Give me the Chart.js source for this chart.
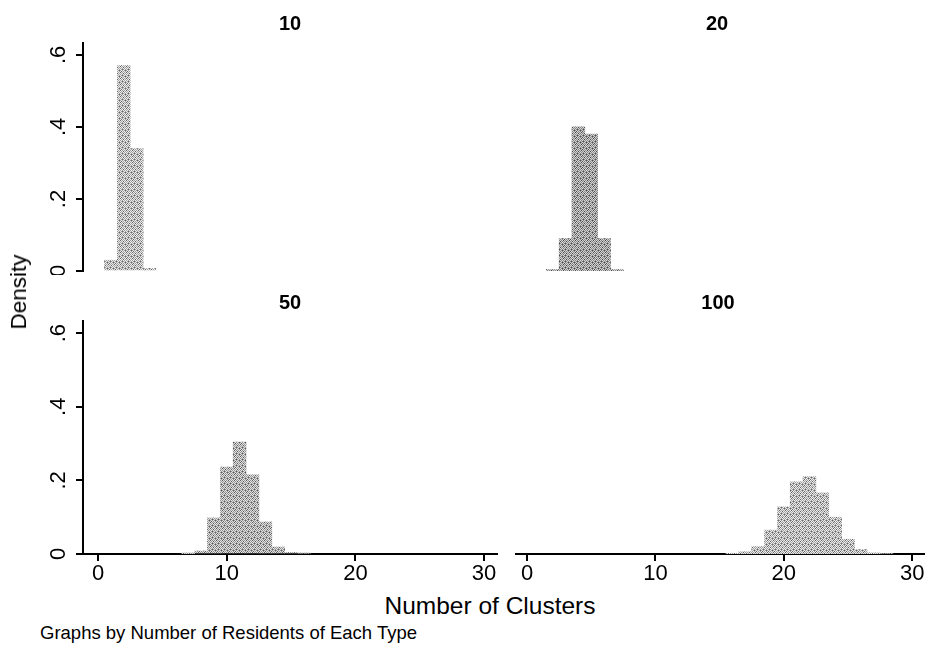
<!DOCTYPE html>
<html>
<head>
<meta charset="utf-8">
<script src="https://cdn.jsdelivr.net/npm/chart.js@4.4.1/dist/chart.umd.min.js"></script>
<style>
  body { margin: 0; background: #fff; width: 928px; height: 645px; position: relative; overflow: hidden;
         font-family: "Liberation Sans", Arial, sans-serif; color: #000; }
  canvas { position: absolute; }
  .ttl { position: absolute; font-weight: bold; font-size: 20px; transform: translate(-50%, -50%); white-space: nowrap; }
  .lbl { position: absolute; white-space: nowrap; font-family: "Liberation Sans Narrow", "Liberation Sans", Arial, sans-serif; }
</style>
</head>
<body>
<canvas id="p10" width="498" height="245" style="left:0;top:30px"></canvas>
<canvas id="p20" width="410" height="245" style="left:515px;top:30px"></canvas>
<canvas id="p50" width="498" height="290" style="left:0;top:300px"></canvas>
<canvas id="p100" width="410" height="290" style="left:515px;top:300px"></canvas>

<div class="ttl" style="left:290px;top:23px">10</div>
<div class="ttl" style="left:717px;top:23px">20</div>
<div class="ttl" style="left:290px;top:302px">50</div>
<div class="ttl" style="left:718px;top:302px">100</div>

<div class="lbl" style="left:19px;top:292px;font-size:22.5px;transform:translate(-50%,-50%) rotate(-90deg)">Density</div>
<div class="lbl" style="left:490px;top:606px;font-size:24.5px;transform:translate(-50%,-50%)">Number of Clusters</div>
<div class="lbl" style="left:40px;top:622px;font-size:18.5px">Graphs by Number of Residents of Each Type</div>

<script>
// number of clusters (bin centres) and density for each panel (residents of each type)
const clusters10 = [1, 2, 3, 4];
const density10 = [0.03, 0.57, 0.34, 0.007];

const clusters20 = [2, 3, 4, 5, 6, 7];
const density20 = [0.004, 0.09, 0.40, 0.38, 0.09, 0.004];

const clusters50 = [7, 8, 9, 10, 11, 12, 13, 14, 15, 16];
const density50 = [0.001, 0.008, 0.098, 0.236, 0.304, 0.215, 0.087, 0.019, 0.004, 0.002];

const clusters100 = [16, 17, 18, 19, 20, 21, 22, 23, 24, 25, 26, 27, 28];
const density100 = [0.002, 0.006, 0.02, 0.065, 0.128, 0.196, 0.21, 0.166, 0.10, 0.04, 0.012, 0.003, 0.001];

const xTicks = [0, 10, 20, 30];
const yTicks = [0, 0.2, 0.4, 0.6];
const yTickLabels = ["0", ".2", ".4", ".6"];

const tickFont = '"Liberation Sans Narrow", "Liberation Sans", Arial, sans-serif';

// grainy grey fill like the scanned bars
function grainPattern(dark) {
  const c = document.createElement("canvas");
  c.width = 6; c.height = 6;
  const g = c.getContext("2d");
  for (let i = 0; i < 6; i++) {
    for (let j = 0; j < 6; j++) {
      let v = (i + j) % 2 === 0 ? 160 : 235;
      if ((i * 3 + j * 5) % 7 === 0) v = 100;
      v = Math.round(v - dark);
      g.fillStyle = "rgb(" + v + "," + v + "," + v + ")";
      g.fillRect(i, j, 1, 1);
    }
  }
  return g.createPattern(c, "repeat");
}

const yLabelPlugin = {
  id: "yLabels",
  afterDraw(chart) {
    const s = chart.scales.y;
    if (!s.options.display) return;
    const ctx = chart.ctx;
    ctx.save();
    ctx.font = "22px " + tickFont;
    ctx.fillStyle = "#000";
    ctx.textAlign = "center";
    ctx.textBaseline = "middle";
    yTicks.forEach(function(v, i) {
      ctx.save();
      ctx.translate(59, s.getPixelForValue(v));
      ctx.rotate(-Math.PI / 2);
      ctx.fillText(yTickLabels[i], 0, 0);
      ctx.restore();
    });
    ctx.restore();
  }
};

function makePanel(id, xs, ys, p) {
  const ctx = document.getElementById(id).getContext("2d");
  return new Chart(ctx, {
    type: "bar",
    data: {
      datasets: [{
        data: xs.map(function(x, i) { return { x: x, y: ys[i] }; }),
        backgroundColor: grainPattern(p.dark),
        borderWidth: 0,
        barPercentage: 1,
        categoryPercentage: 1
      }]
    },
    options: {
      responsive: false,
      animation: false,
      devicePixelRatio: 1,
      layout: { padding: { top: p.padTop, bottom: p.padBottom, left: 0, right: 0 } },
      plugins: { legend: { display: false }, tooltip: { enabled: false } },
      scales: {
        x: {
          type: "linear",
          display: p.showX,
          offset: false,
          min: p.xMin,
          max: p.xMax,
          afterBuildTicks: function(s) { s.ticks = xTicks.map(function(v) { return { value: v }; }); },
          afterFit: function(s) { if (p.showX) s.height = 36; },
          border: { display: true, color: "#000", width: 2 },
          grid: { offset: false, drawOnChartArea: false, drawTicks: true, tickLength: 7, color: "#000", lineWidth: 2 },
          ticks: { color: "#000", font: { size: 22, family: tickFont }, padding: 0, maxRotation: 0 }
        },
        y: {
          display: p.showY,
          min: 0,
          max: 0.633,
          afterBuildTicks: function(s) { s.ticks = yTicks.map(function(v) { return { value: v }; }); },
          afterFit: function(s) { if (p.showY) s.width = 83; },
          border: { display: true, color: "#000", width: 2 },
          grid: { drawOnChartArea: false, drawTicks: true, tickLength: 7, color: "#000", lineWidth: 2 },
          ticks: { display: false }
        }
      }
    },
    plugins: [yLabelPlugin]
  });
}

makePanel("p10", clusters10, density10, { dark: 0, showX: false, showY: true, xMin: -1.17, xMax: 31.08, padTop: 13, padBottom: 4 });
makePanel("p20", clusters20, density20, { dark: 25, showX: false, showY: false, xMin: -0.94, xMax: 31.0, padTop: 13, padBottom: 4 });
makePanel("p50", clusters50, density50, { dark: 10, showX: true, showY: true, xMin: -1.17, xMax: 31.08, padTop: 21, padBottom: 0 });
makePanel("p100", clusters100, density100, { dark: 0, showX: true, showY: false, xMin: -0.94, xMax: 31.0, padTop: 21, padBottom: 0 });
</script>
</body>
</html>
